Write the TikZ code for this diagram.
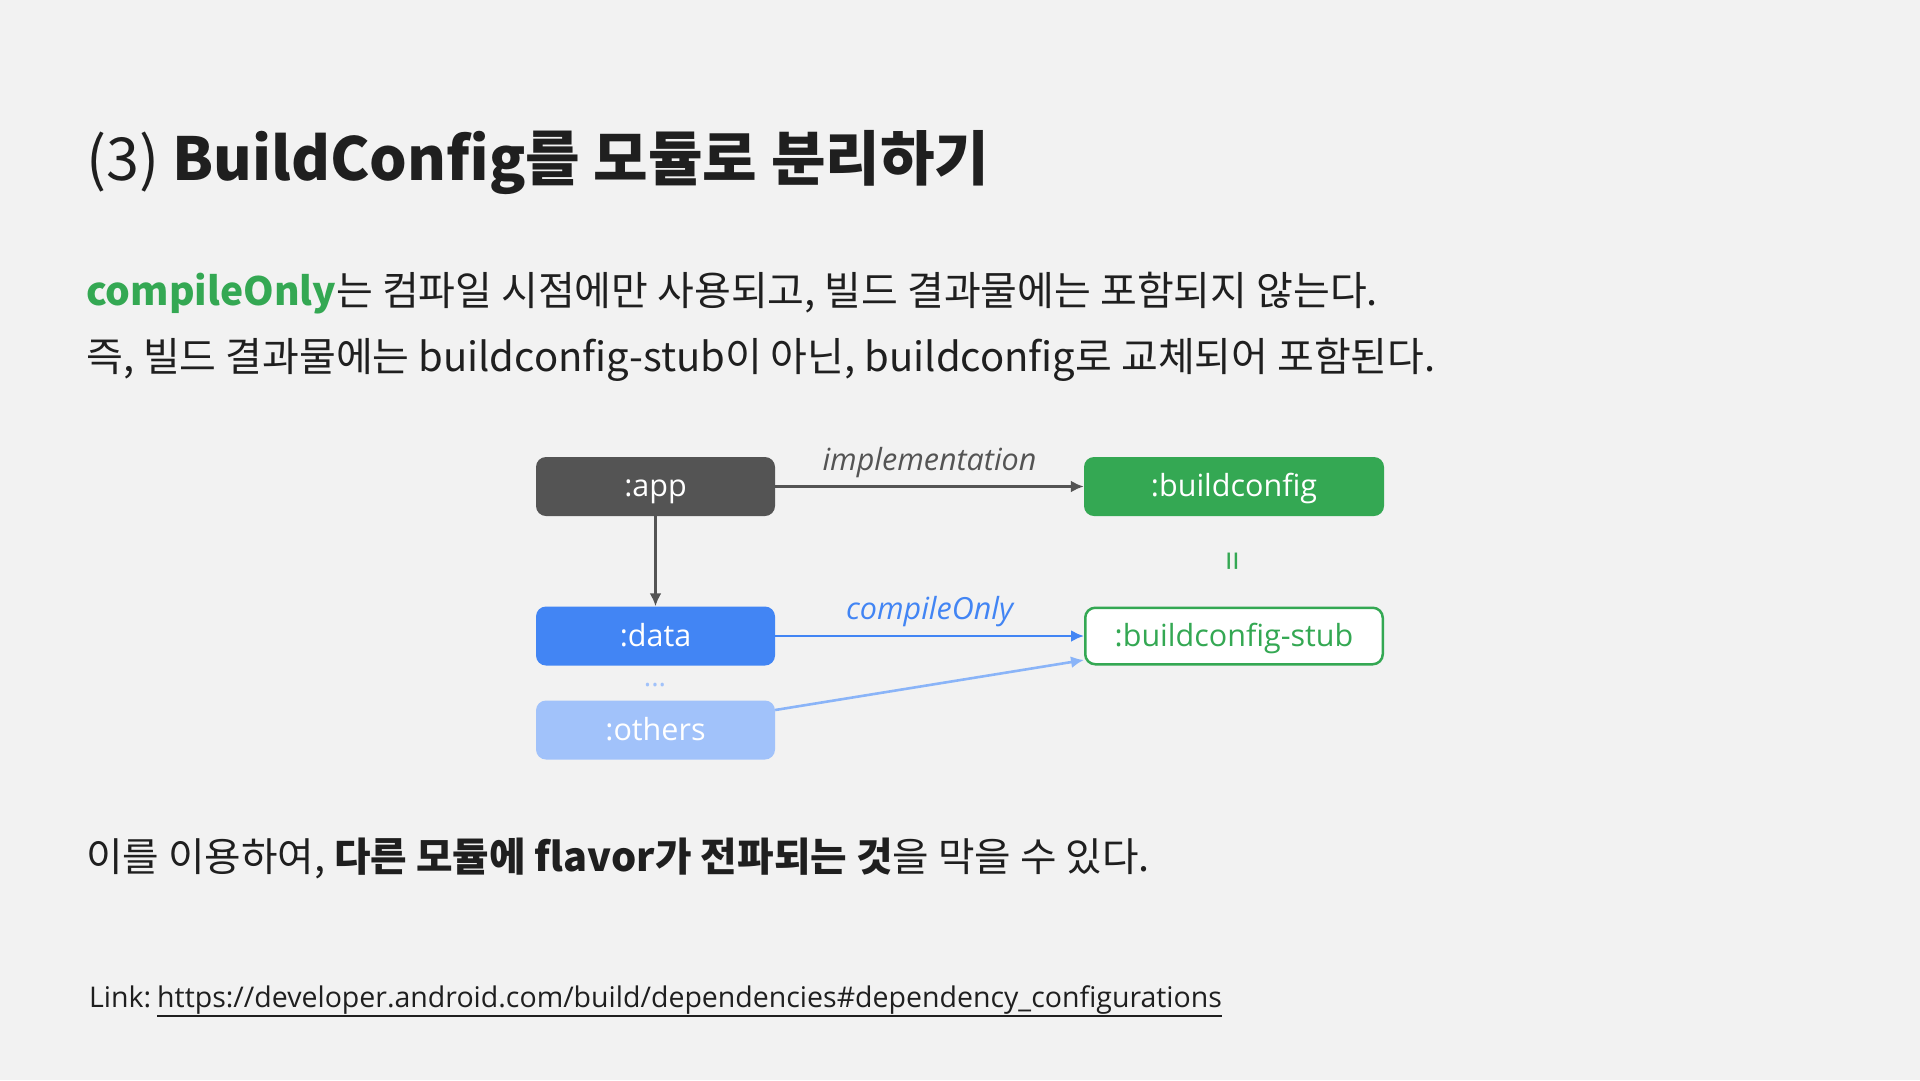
\documentclass[tikz,border=0pt]{standalone}
\usepackage{fontspec}
\usetikzlibrary{arrows.meta}
\setmainfont{Noto Sans CJK KR}
\newfontfamily\gs{Open Sans}
\definecolor{bg}{HTML}{F2F2F2}
\definecolor{ink}{HTML}{1F1F1F}
\definecolor{appgray}{HTML}{545454}
\definecolor{ggreen}{HTML}{34A853}
\definecolor{gblue}{HTML}{4285F4}
\definecolor{lblue}{HTML}{A1C2FA}
\definecolor{lbluearrow}{HTML}{8AB4F8}
\begin{document}
\begin{tikzpicture}[x=1pt,y=-1pt,
  modbox/.style={rounded corners=10pt, minimum width=239pt, minimum height=59pt, inner sep=0pt,
    font=\gs\fontsize{30.5}{36}\selectfont, text=white, text height=20pt, text depth=0pt},
  widebox/.style={modbox, minimum width=300pt},
  arr/.style={line width=2.6pt, -{Latex[length=13pt,width=12pt]}},
  txt/.style={anchor=base west, inner sep=0pt, text=ink},
  edgelabel/.style={font=\gs\itshape\fontsize{30.5}{36}\selectfont, inner sep=0pt}
]
\fill[bg] (0,0) rectangle (1920,1080);

% title and text
\node[txt, font=\fontsize{59.3}{72}\selectfont] (title) at (86,180)
  {(3) \textbf{BuildConfig를 모듈로 분리하기}};
\node[txt, font=\fontsize{40}{48}\selectfont] (line1) at (86,305)
  {\textcolor{ggreen}{\fontsize{39}{48}\selectfont\bfseries compileOnly}는 컴파일 시점에만 사용되고, 빌드 결과물에는 포함되지 않는다.};
\node[txt, font=\fontsize{40}{48}\selectfont] (line2) at (86,371)
  {즉, 빌드 결과물에는 buildconfig-stub이 아닌, buildconfig로 교체되어 포함된다.};
\node[txt, font=\fontsize{39.7}{48}\selectfont] (line3) at (86,871)
  {이를 이용하여, \textbf{다른 모듈에 flavor가 전파되는 것}을 막을 수 있다.};

% link
\node[txt, font=\gs\fontsize{28.5}{34}\selectfont] (linklbl) at (89,1007) {Link:};
\node[txt, font=\gs\fontsize{28.5}{34}\selectfont] (url) at (157,1007)
  {https://developer.android.com/build/dependencies\#dependency\_configurations};
\draw[ink, line width=2pt] ([yshift=-9pt]url.base west) -- ([yshift=-9pt]url.base east);

% modules
\node[modbox, fill=appgray] (app) at (655.5,486.5) {:app};
\node[widebox, fill=ggreen] (bc) at (1234,486.5) {:buildconfig};
\node[modbox, fill=gblue] (data) at (655.5,636) {:data};
\node[widebox, fill=white, draw=ggreen, line width=2.5pt, text=ggreen,
  minimum width=297.5pt, minimum height=56.5pt] (stub) at (1234,636) {:buildconfig-stub};
\node[modbox, fill=lblue] (others) at (655.5,730) {:others};

\node[text=lblue, font=\gs\fontsize{28}{32}\selectfont, inner sep=0pt] (dots) at (655,685) {...};
\node[text=ggreen, rotate=90, font=\gs\fontsize{36}{40}\selectfont, inner sep=0pt] (eq) at (1237,561) {=};

% connectors
\draw[arr, appgray] (app) -- node[edgelabel, text=appgray, yshift=24pt] {implementation} (bc);
\draw[arr, appgray] (app) -- (data);
\draw[arr, gblue] (data) -- node[edgelabel, text=gblue, yshift=24pt] {compileOnly} (stub);
\draw[arr, lbluearrow] ([yshift=20pt]others.east) -- ([yshift=-24pt]stub.west);
\end{tikzpicture}
\end{document}
